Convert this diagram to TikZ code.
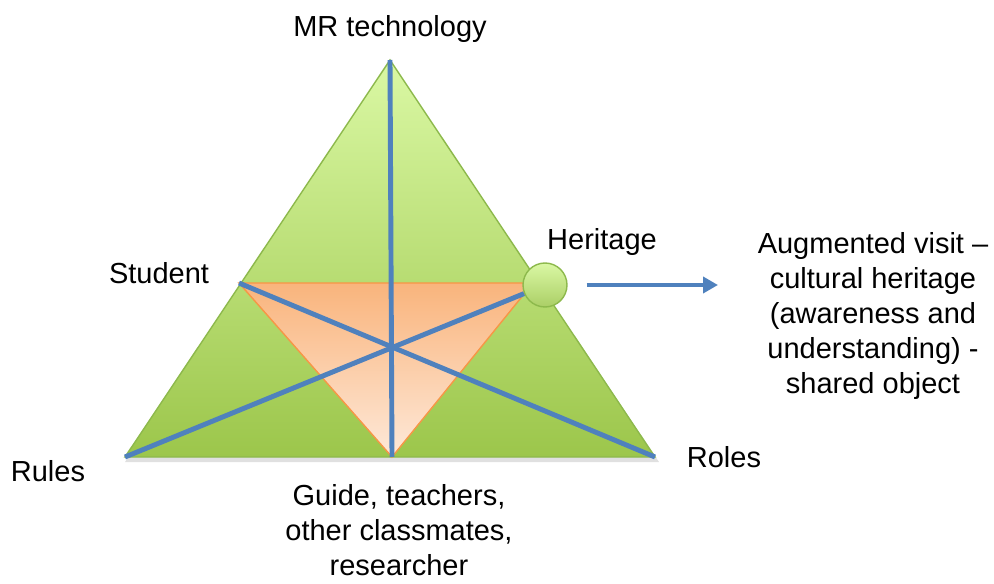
\documentclass[tikz,border=0pt]{standalone}
\usepackage{fontspec}
\setmainfont{Liberation Sans}
\usepackage{tikz}
\usetikzlibrary{arrows.meta,positioning,calc}
\usepackage{xcolor}
\definecolor{greenTop}{HTML}{DAF8A4}
\definecolor{greenBot}{HTML}{9CC64B}
\definecolor{greenLine}{HTML}{8DB94C}
\definecolor{orangeTop}{HTML}{F9B47C}
\definecolor{orangeBot}{HTML}{FEE9D9}
\definecolor{orangeLine}{HTML}{F79646}
\definecolor{axisBlue}{HTML}{4F81BD}

\begin{document}
\begin{tikzpicture}[x=0.02cm,y=-0.02cm,
    lbl/.style={font=\fontsize{16.5}{20}\selectfont, inner sep=0pt},
    axis/.style={axisBlue, line width=2.8pt},
    ]
            \useasboundingbox (0,0) rectangle (994,584);

            % Corners of the big triangle and the inner one
            \coordinate (top) at (390,60);
            \coordinate (rulesC) at (125,457);
            \coordinate (rolesC) at (655,457);
            \coordinate (student) at (239,283);
            \coordinate (innerR) at (533,283);
            \coordinate (base) at (392,457);

            % Big triangle with soft shadow
            \fill[black,opacity=0.12] ($(top)+(2,5)$) -- ($(rulesC)+(0,5)$) -- ($(rolesC)+(4,5)$) -- cycle;
            \shade[top color=greenTop, bottom color=greenBot, draw=greenLine, thick]
                (top) -- (rulesC) -- (rolesC) -- cycle;

            % Inner (inverted) triangle
            \shade[top color=orangeTop, bottom color=orangeBot, draw=orangeLine, thick]
                (student) -- (innerR) -- (base) -- cycle;

            % Heritage point
            \node[circle, minimum size=0.88cm, inner sep=0pt, top color=greenTop, bottom color=greenBot!85,
                draw=greenLine, thick] (hdot) at (545,285) {};

            % Blue axes
            \draw[axis] (top) -- (base);
            \draw[axis] (student) -- (rolesC);
            \draw[axis] (rulesC) -- (hdot);

            % Labels
            \node[lbl, anchor=base] (mr) at (390,37) {MR technology};
            \node[lbl, anchor=base] (stud) at (159,283) {Student};
            \node[lbl, anchor=base] (her) at (602,250) {Heritage};
            \node[lbl, anchor=base] (rules) at (48,481) {Rules};
            \node[lbl, anchor=base] (roles) at (724,467) {Roles};
            \node[lbl, anchor=north, align=center] (guide) at (399,484)
                {Guide, teachers,\\other classmates,\\researcher};
            \node[lbl, anchor=north, align=center] (aug) at (873,232)
                {Augmented visit –\\cultural heritage\\(awareness and\\understanding) -\\shared object};

            % Arrow towards the outcome
            \coordinate (arrEnd) at (718,285);
            \draw[axis, -{Triangle[length=3mm,width=3.2mm]}, shorten <=0.38cm]
                (hdot.east) -- (arrEnd);
        \end{tikzpicture}
\end{document}
